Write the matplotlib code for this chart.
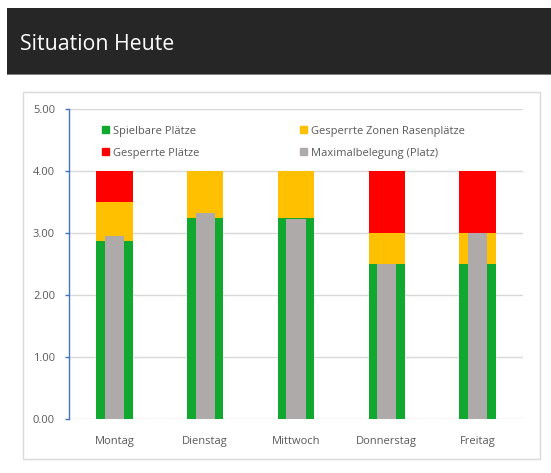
import matplotlib.pyplot as plt
from matplotlib.patches import Rectangle, Patch

# data
tage = ['Montag', 'Dienstag', 'Mittwoch', 'Donnerstag', 'Freitag']
spielbar = [2.87, 3.25, 3.25, 2.5, 2.5]
gesperrt_zonen = [0.63, 0.75, 0.75, 0.5, 0.5]
gesperrt = [0.5, 0.0, 0.0, 1.0, 1.0]
maximal = [2.95, 3.33, 3.23, 2.5, 3.0]

c_green = '#10A82F'
c_yellow = '#FFC000'
c_red = '#FF0000'
c_gray = '#AEAAAA'
c_text = '#595959'

plt.rcParams['font.family'] = ['Open Sans', 'DejaVu Sans']

W, H = 551, 473
fig = plt.figure(figsize=(W / 100, H / 100), dpi=100)
fig.patch.set_facecolor('white')

# dark header band
fig.patches.append(Rectangle((7 / W, 1 - 74 / H), 1 - 7 / W, 66 / H,
                             transform=fig.transFigure, facecolor='#262626',
                             edgecolor='none', zorder=-2))
fig.patches.append(Rectangle((7 / W, 1 - 75.5 / H), 1 - 7 / W, 1.5 / H,
                             transform=fig.transFigure, facecolor='#7f7f7f',
                             edgecolor='none', zorder=-2))
fig.text(20 / W, 1 - 44 / H, 'Situation Heute', color='white', fontsize=15.3,
         va='center', ha='left')

# chart frame
fig.patches.append(Rectangle((23 / W, 1 - 459 / H), (540 - 23) / W, (459 - 92) / H,
                             transform=fig.transFigure, facecolor='white',
                             edgecolor='#d9d9d9', linewidth=1, zorder=-2))

ax = fig.add_axes([69 / W, (H - 419) / H, (523 - 69) / W, (419 - 109) / H])
ax.set_zorder(2)
ax.set_facecolor('none')

x = range(len(tage))
bw = 0.40
ax.bar(x, spielbar, bw, color=c_green, zorder=2)
bottom2 = [a for a in spielbar]
ax.bar(x, gesperrt_zonen, bw, bottom=bottom2, color=c_yellow, zorder=2)
bottom3 = [a + b for a, b in zip(spielbar, gesperrt_zonen)]
ax.bar(x, gesperrt, bw, bottom=bottom3, color=c_red, zorder=2)
ax.bar(x, maximal, 0.21, color=c_gray, zorder=3)

ax.set_xlim(-0.5, len(tage) - 0.5)
ax.set_ylim(0, 5)
ax.set_yticks([0, 1, 2, 3, 4, 5])
ax.set_yticklabels(['%.2f' % v for v in [0, 1, 2, 3, 4, 5]])
ax.set_xticks(list(x))
ax.set_xticklabels(tage)
ax.yaxis.grid(True, color='#d9d9d9', linewidth=1, zorder=0)
ax.set_axisbelow(True)

for s in ['top', 'right', 'bottom']:
    ax.spines[s].set_visible(False)
ax.spines['left'].set_color('#4472C4')
ax.spines['left'].set_linewidth(1)
ax.tick_params(axis='y', colors='#4472C4', length=3, width=1, pad=7,
               labelcolor=c_text, labelsize=8)
ax.tick_params(axis='x', length=0, pad=12, labelcolor=c_text, labelsize=8)

# legend in two separate columns
leg_kw = dict(frameon=False, fontsize=8, handlelength=0.65, handleheight=0.65,
              handletextpad=0.4, labelspacing=1.0, borderpad=0, labelcolor=c_text)
leg1 = ax.legend([Patch(color=c_green), Patch(color=c_red)],
                 ['Spielbare Plätze', 'Gesperrte Plätze'],
                 loc='upper left', bbox_to_anchor=(96 / W, 1 - 120 / H),
                 bbox_transform=fig.transFigure, **leg_kw)
ax.add_artist(leg1)
ax.legend([Patch(color=c_yellow), Patch(color=c_gray)],
          ['Gesperrte Zonen Rasenplätze', 'Maximalbelegung (Platz)'],
          loc='upper left', bbox_to_anchor=(294 / W, 1 - 120 / H),
          bbox_transform=fig.transFigure, **leg_kw)

fig.savefig('out.png', dpi=100)
